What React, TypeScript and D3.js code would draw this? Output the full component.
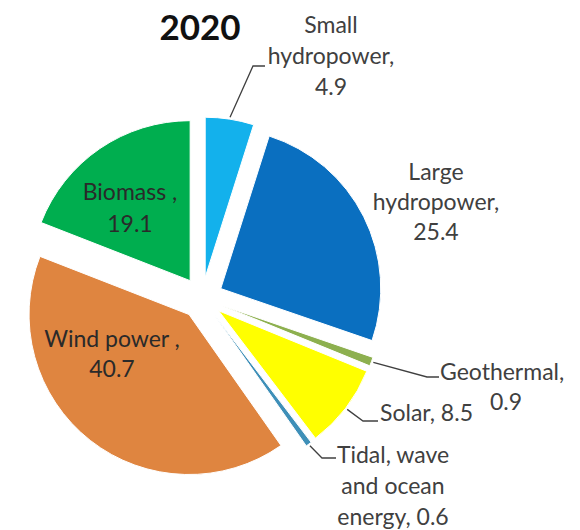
import { useEffect, useRef } from 'react';
import * as d3 from 'd3';

// 2020 renewable mix (share, %)
const categories = [
  'Small hydropower',
  'Large hydropower',
  'Geothermal',
  'Solar',
  'Tidal, wave and ocean energy',
  'Wind power',
  'Biomass',
];
const values = [4.9, 25.4, 0.9, 8.5, 0.6, 40.7, 19.1];
const colors = ['#13b1ec', '#0a6fc0', '#8db04f', '#ffff00', '#3e8fb8', '#df8540', '#00ae4f'];

// label lines, as they appear in the chart
const labelLines = [
  ['Small', 'hydropower,', '4.9'],
  ['Large', 'hydropower,', '25.4'],
  ['Geothermal,', '0.9'],
  ['Solar, 8.5'],
  ['Tidal, wave', 'and ocean', 'energy, 0.6'],
  ['Wind power ,', '40.7'],
  ['Biomass ,', '19.1'],
];

// where each label block sits (x, first baseline, anchor) and whether it has a leader
const labelLayout = [
  { x: 331, y: 33, anchor: 'middle', dy: 31, leader: [[253, 66], [265, 66]] },
  { x: 436, y: 180, anchor: 'middle', dy: 30, leader: null },
  { x: 440, y: 380, anchor: 'start', dy: 30, leader: [[427, 377], [439, 377]], extra: [{ dx: 50 }] },
  { x: 380, y: 421, anchor: 'start', dy: 30, leader: [[363, 421], [378, 421]] },
  { x: 393, y: 463, anchor: 'middle', dy: 31, leader: [[322, 458], [336, 458]] },
  { x: 112, y: 347, anchor: 'middle', dy: 30, leader: null },
  { x: 130, y: 200, anchor: 'middle', dy: 32, leader: null },
];

const width = 580;
const height = 530;
const cx = 202;
const cy = 298;
const radius = 160;
const explode = 21;

const App = () => {
  const ref = useRef<SVGSVGElement>(null);

  useEffect(() => {
    const svg = d3.select(ref.current);
    svg.selectAll('*').remove();

    const pie = d3.pie<number>().sort(null).startAngle(0).endAngle(2 * Math.PI);
    const arcs = pie(values);
    const arc = d3.arc<d3.PieArcDatum<number>>().innerRadius(0).outerRadius(radius);

    const g = svg.append('g').attr('transform', `translate(${cx},${cy})`);

    const offset = (d: d3.PieArcDatum<number>) => {
      const a = (d.startAngle + d.endAngle) / 2;
      return [Math.sin(a) * explode, -Math.cos(a) * explode];
    };

    g.selectAll('path')
      .data(arcs)
      .join('path')
      .attr('transform', (d) => `translate(${offset(d).join(',')})`)
      .attr('d', arc)
      .attr('fill', (_, i) => colors[i])
      .attr('stroke', '#fff')
      .attr('stroke-width', 1);

    // leader lines, starting at the rim of each slice
    arcs.forEach((d, i) => {
      const lay = labelLayout[i];
      if (!lay.leader) return;
      const a = (d.startAngle + d.endAngle) / 2;
      const [ox, oy] = offset(d);
      const start: [number, number] = [cx + ox + Math.sin(a) * (radius + 2), cy + oy - Math.cos(a) * (radius + 2)];
      const pts = [start, ...(lay.leader as [number, number][])];
      svg.append('path')
        .attr('d', d3.line()(pts))
        .attr('fill', 'none')
        .attr('stroke', '#404040')
        .attr('stroke-width', 1.3);
    });

    labelLines.forEach((lines, i) => {
      const lay = labelLayout[i];
      const inside = !lay.leader && i !== 1;
      const t = svg.append('text')
        .attr('font-family', 'Lato, sans-serif')
        .attr('font-size', 23)
        .attr('fill', inside ? '#2a2a2a' : '#404040')
        .attr('text-anchor', lay.anchor);
      lines.forEach((line, j) => {
        t.append('tspan')
          .attr('x', lay.x + (lay.extra && j > 0 ? lay.extra[0].dx : 0))
          .attr('y', lay.y + j * lay.dy)
          .text(line);
      });
    });

    svg.append('text')
      .attr('x', 200)
      .attr('y', 40)
      .attr('text-anchor', 'middle')
      .attr('font-family', 'Lato, sans-serif')
      .attr('font-weight', 'bold')
      .attr('font-size', 35)
      .attr('fill', '#111')
      .text('2020');
  }, []);

  return (
    <svg
      ref={ref}
      width={width}
      height={height}
      style={{ position: 'absolute', left: 0, top: 0, background: '#fff' }}
    />
  );
};

export default App;
